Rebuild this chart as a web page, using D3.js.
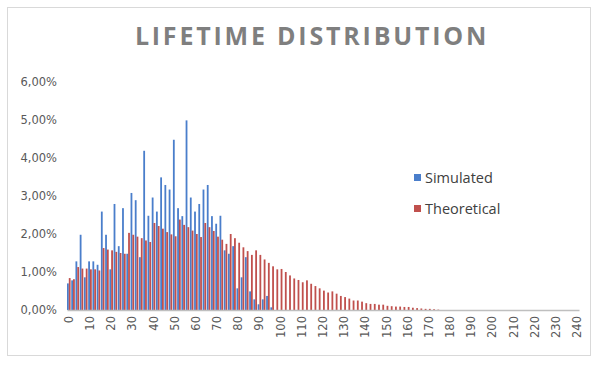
<!DOCTYPE html>
<html>
<head>
<meta charset="utf-8">
<script src="https://cdn.jsdelivr.net/npm/d3@7"></script>
<style>
  body { margin: 0; background: #fff; }
  text { font-family: "DejaVu Sans", sans-serif; }
</style>
</head>
<body>
<div id="chart"></div>
<script>
// lifetimes 0..240, step 2
const categories = d3.range(0, 242, 2)

// simulated share (%) per lifetime, nothing after 96
const simulated = [
    0.70, 0.78, 1.28, 1.98, 0.86, 1.28, 1.28, 1.19, 2.59, 1.98,
    1.07, 2.79, 1.68, 2.68, 1.48, 3.08, 2.89, 1.39, 4.19, 2.48,
    2.96, 2.59, 3.49, 3.29, 3.17, 4.48, 2.68, 2.47, 4.99, 2.96,
    2.59, 2.79, 3.17, 3.29, 2.47, 2.27, 2.48, 1.57, 1.48, 1.68,
    0.57, 0.86, 1.39, 0.49, 0.28, 0.15, 0.28, 0.37, 0.07
]

// theoretical share (%) per lifetime
const theoretical = [
    0.84, 0.81, 1.13, 1.09, 1.09, 1.07, 1.07, 1.04, 1.63, 1.59,
    1.57, 1.53, 1.50, 1.48, 2.03, 1.98, 1.93, 1.89, 1.83, 1.79,
    2.29, 2.21, 2.14, 2.05, 1.99, 1.94, 2.38, 2.24, 2.18, 2.09,
    2.00, 1.92, 2.29, 2.18, 2.08, 1.93, 1.85, 1.74, 2.00, 1.89,
    1.77, 1.65, 1.55, 1.45, 1.57, 1.45, 1.33, 1.24, 1.15, 1.07,
    1.08, 1.00, 0.91, 0.83, 0.79, 0.73, 0.78, 0.69, 0.63, 0.57,
    0.51, 0.46, 0.49, 0.43, 0.37, 0.34, 0.30, 0.25, 0.25, 0.22,
    0.18, 0.16, 0.16, 0.14, 0.14, 0.11, 0.10, 0.09, 0.09, 0.08,
    0.08, 0.06, 0.05, 0.04, 0.03, 0.03, 0.02, 0.01
]

const yTicks = [0, 1, 2, 3, 4, 5, 6]
const seriesNames = ['Simulated', 'Theoretical']
const colors = ['#4a7ecb', '#c0504d']

const dataset = categories.map((c, i) => ({
    cat: c,
    values: [simulated[i] || 0, theoretical[i] || 0]
}))

const dimensions = {
    width: 600,
    height: 367,
    margin: { top: 82, bottom: 57, left: 67, right: 21 }
}

const svg = d3.select('#chart')
    .append('svg')
    .attr('width', dimensions.width)
    .attr('height', dimensions.height)

// outer frame
svg.append('rect')
    .attr('x', 7.5)
    .attr('y', 7.5)
    .attr('width', 583)
    .attr('height', 348)
    .attr('fill', '#fff')
    .attr('stroke', '#d9d9d9')

svg.append('text')
    .attr('x', 312)
    .attr('y', 45)
    .attr('text-anchor', 'middle')
    .attr('fill', '#7f7f7f')
    .style('font-family', '"Open Sans", sans-serif')
    .style('font-size', '25px')
    .style('font-weight', 700)
    .style('letter-spacing', '2.8px')
    .text('LIFETIME DISTRIBUTION')

const x0 = d3.scaleBand()
    .domain(categories)
    .range([dimensions.margin.left, dimensions.width - dimensions.margin.right])
    .paddingInner(0.15)

const x1 = d3.scaleBand()
    .domain([0, 1])
    .range([0, x0.bandwidth()])

const yScale = d3.scaleLinear()
    .domain([0, 6])
    .range([dimensions.height - dimensions.margin.bottom, dimensions.margin.top])

const groups = svg.append('g')
    .selectAll('g')
    .data(dataset)
    .join('g')
    .attr('transform', d => `translate(${x0(d.cat)},0)`)

groups.selectAll('rect')
    .data(d => d.values.map((v, k) => ({ k, v })))
    .join('rect')
    .attr('x', d => x1(d.k))
    .attr('width', x1.bandwidth())
    .attr('y', d => yScale(d.v))
    .attr('height', d => yScale(0) - yScale(d.v))
    .attr('fill', d => colors[d.k])

const yAxis = d3.axisLeft(yScale)
    .tickValues(yTicks)
    .tickSize(0)
    .tickPadding(10)
    .tickFormat(d => d3.format('.2f')(d).replace('.', ',') + '%')

svg.append('g')
    .attr('transform', `translate(${dimensions.margin.left},0)`)
    .call(yAxis)
    .call(g => g.select('.domain').remove())
    .selectAll('text')
    .attr('fill', '#595959')
    .style('font-size', '11.5px')

const xAxis = d3.axisBottom(x0)
    .tickValues(categories.filter(c => c % 10 === 0))
    .tickSize(0)
    .tickPadding(6)

const xAxisGroup = svg.append('g')
    .attr('transform', `translate(0,${yScale(0)})`)
    .call(xAxis)

xAxisGroup.select('.domain')
    .attr('stroke', '#bfbfbf')
    .attr('stroke-width', 1.3)

xAxisGroup.selectAll('text')
    .attr('fill', '#595959')
    .style('font-size', '11.5px')
    .attr('text-anchor', 'end')
    .attr('transform', 'rotate(-90)')
    .attr('x', -6)
    .attr('y', 0)
    .attr('dy', '0.35em')

// legend
const legend = svg.append('g')
    .selectAll('g')
    .data(seriesNames)
    .join('g')
    .attr('transform', (d, i) => `translate(414,${178 + i * 31})`)

legend.append('rect')
    .attr('x', 0)
    .attr('y', -4)
    .attr('width', 7)
    .attr('height', 7)
    .attr('fill', (d, i) => colors[i])

legend.append('text')
    .attr('x', 11)
    .attr('y', 0)
    .attr('dy', '0.35em')
    .attr('fill', '#404040')
    .style('font-family', '"Open Sans", sans-serif')
    .style('font-size', '14.5px')
    .text(d => d)
</script>
</body>
</html>
